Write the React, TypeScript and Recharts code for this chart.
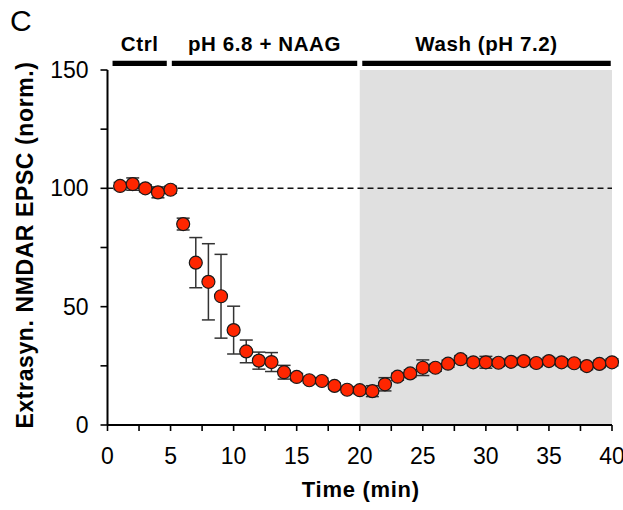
import React from 'react';
import { ComposedChart, Line, XAxis, YAxis, ErrorBar, ReferenceArea, ReferenceLine } from 'recharts';

const timeMin = [1, 2, 3, 4, 5, 6, 7, 8, 9, 10, 11, 12, 13, 14, 15, 16, 17, 18, 19, 20, 21, 22, 23, 24, 25, 26, 27, 28, 29, 30, 31, 32, 33, 34, 35, 36, 37, 38, 39, 40];
const epscNorm = [101.0, 101.8, 100.0, 98.3, 99.4, 84.9, 68.6, 60.5, 54.4, 40.1, 31.1, 27.2, 26.6, 22.3, 20.3, 18.9, 18.6, 16.5, 14.9, 14.7, 14.3, 17.2, 20.4, 21.8, 24.2, 24.2, 25.9, 27.8, 26.5, 26.5, 26.3, 26.7, 27.0, 26.2, 27.0, 26.5, 26.1, 24.9, 25.8, 26.5];
const epscSem = [1.5, 2.6, 1.5, 2.3, 1.5, 2.5, 10.6, 16.1, 17.7, 10.1, 4.8, 3.6, 4.0, 2.9, 1.5, 1.2, 1.2, 1.2, 1.2, 1.5, 2.3, 2.8, 1.5, 1.5, 3.3, 1.5, 1.5, 1.5, 1.5, 2.5, 1.5, 1.5, 1.5, 1.5, 1.5, 1.5, 1.5, 1.5, 1.5, 1.5];

const phaseLabels = ['Ctrl', 'pH 6.8 + NAAG', 'Wash (pH 7.2)'];
const phaseStart = [0.4, 5.1, 20.2];
const phaseEnd = [4.7, 19.8, 39.9];

const xTicks = [0, 2.5, 5, 7.5, 10, 12.5, 15, 17.5, 20, 22.5, 25, 27.5, 30, 32.5, 35, 37.5, 40];
const yTicks = [0, 25, 50, 75, 100, 125, 150];
const baselineValue = 100;
const washStart = 20;
const washEnd = 40;

const data = timeMin.map((t, i) => ({ t, v: epscNorm[i], e: epscSem[i] }));

const FONT = '"Liberation Sans", Arial, Helvetica, sans-serif';

const Dot = (props: any) => {
  const { cx, cy } = props;
  if (cx == null || cy == null) return null;
  return <circle cx={cx} cy={cy} r={6.5} fill="#FF2600" stroke="#1a1a1a" strokeWidth={1.2} />;
};

export default function App() {
  return (
    <div style={{ position: 'absolute', left: 0, top: 0, width: 623, height: 510, background: '#fff' }}>
      <svg width={60} height={45} style={{ position: 'absolute', left: 0, top: 0 }}>
        <text x={10} y={31} fontSize={30} fontFamily={FONT} fill="#000">C</text>
      </svg>
      <ComposedChart
        width={623}
        height={510}
        data={data}
        margin={{ top: 70, right: 11, bottom: 0, left: 0 }}
      >
        <ReferenceArea x1={washStart} x2={washEnd} y1={0} y2={150} fill="#e0e0e0" fillOpacity={1} stroke="none" />
        <XAxis
          dataKey="t"
          type="number"
          domain={[0, 40]}
          ticks={xTicks}
          interval={0}
          tickFormatter={(v: number) => (v % 5 === 0 ? String(v) : '')}
          height={85}
          tickSize={6}
          tickMargin={17}
          axisLine={{ stroke: '#000', strokeWidth: 2 }}
          tickLine={{ stroke: '#000', strokeWidth: 1.6 }}
          tick={{ fontSize: 23, fill: '#000', fontFamily: FONT }}
          label={{
            content: (p: any) => {
              const vb = p.viewBox;
              return (
                <text x={vb.x + vb.width / 2 + 1} y={vb.y + 72} textAnchor="middle" fontSize={22} fontWeight="bold" letterSpacing={0.7} fontFamily={FONT} fill="#000">
                  Time (min)
                </text>
              );
            },
          }}
        />
        <YAxis
          type="number"
          domain={[0, 150]}
          ticks={yTicks}
          interval={0}
          tickFormatter={(v: number) => (v % 50 === 0 ? String(v) : '')}
          width={107.5}
          tickSize={7}
          tickMargin={12}
          axisLine={{ stroke: '#000', strokeWidth: 2 }}
          tickLine={{ stroke: '#000', strokeWidth: 1.6 }}
          tick={{ fontSize: 23, fill: '#000', fontFamily: FONT }}
          label={{
            content: (p: any) => {
              const vb = p.viewBox;
              const cx = vb.x + 33;
              const cy = vb.y + vb.height / 2 - 2.5;
              return (
                <text x={cx} y={cy} transform={`rotate(-90 ${cx} ${cy})`} textAnchor="middle" fontSize={23} fontWeight="bold" letterSpacing={0.6} fontFamily={FONT} fill="#000">
                  Extrasyn. NMDAR EPSC (norm.)
                </text>
              );
            },
          }}
        />
        <ReferenceLine y={baselineValue} stroke="#111" strokeWidth={1.5} strokeDasharray="6 4" />
        {phaseLabels.map((lab, i) => (
          <ReferenceArea
            key={lab}
            x1={phaseStart[i]}
            x2={phaseEnd[i]}
            y1={151.7}
            y2={153.9}
            ifOverflow="visible"
            fill="#000"
            fillOpacity={1}
            stroke="none"
            label={{ value: lab, position: 'top', offset: 10, fontSize: 20.5, fontWeight: 'bold', letterSpacing: 0.6, fill: '#000', fontFamily: FONT }}
          />
        ))}
        <Line
          dataKey="v"
          stroke="none"
          isAnimationActive={false}
          dot={<Dot />}
          activeDot={false}
        >
          <ErrorBar dataKey="e" direction="y" width={6.5} stroke="#333" strokeWidth={1.5} />
        </Line>
      </ComposedChart>
    </div>
  );
}
